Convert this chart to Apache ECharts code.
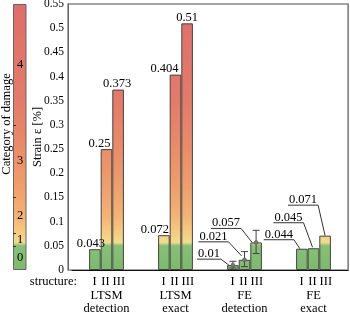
<!DOCTYPE html>
<html>
<head>
<meta charset="utf-8">
<script src="https://cdn.jsdelivr.net/npm/echarts@6/dist/echarts.min.js"></script>
<style>
html, body { margin: 0; padding: 0; background: #fff; }
#damageChart { width: 350px; height: 313px; }
</style>
</head>
<body>
<div id="damageChart"></div>
<script>
// categories
const methods = ['LTSM', 'LTSM', 'FE', 'FE'];
const modes = ['detection', 'exact', 'detection', 'exact'];
const structures = ['I', 'II', 'III'];

// strain [%] per structure
const strainI = [0.043, 0.072, 0.01, 0.044];
const strainII = [0.25, 0.404, 0.021, 0.045];
const strainIII = [0.373, 0.51, 0.057, 0.071];

// error bars (FE detection only)
const errGroup = 2;
const errLow = [0.004, 0.007, 0.034];
const errHigh = [0.018, 0.038, 0.082];

// damage categories of the colour bar
const damageCats = ['0', '1', '2', '3', '4'];
const damageBounds = [0, 0.05, 0.075, 0.15, 0.3, 0.55];

const yMax = 0.55;
const yStep = 0.05;

// ---- styles ----
const FONT = '"Liberation Serif", "Times New Roman", serif';
const FONT_SIZE = 12.5;
const TEXT_COLOR = '#000';
const GRID = { left: 72, right: 2, top: 4, bottom: 43 };
const AXIS_X = 68;
const CHART_W = 350, CHART_H = 313;
const TOP = GRID.top, BOTTOM = CHART_H - GRID.bottom;
const BAR_W = 11.6;
// widths of the "I II III" tokens under each group (pad first)
const STRUCT_PAD = 3.1;
const STRUCT_W = [11.6, 10, 16.7];

// colour map, by strain value
const COLOR_STOPS = [
  [0, '#7dba6c'], [0.05, '#86c076'], [0.057, '#f2dc8c'], [0.075, '#f6cd82'],
  [0.11, '#f4b474'], [0.17, '#f09f6c'], [0.26, '#ea8a68'], [0.35, '#e47b6a'], [0.55, '#df6e69']
];

// label placement (style only): plain -> dx of text centre; leader -> underline end offset + tip
const LABEL_STYLE = [
  { leader: false, dx: [-4, -7, -1] },
  { leader: false, dx: [-9, -11, 0] },
  { leader: true, dx: [-12, -16, -15], dy: [-6, -18, -14], tip: [[-4, 0], [-3, -4], [-4, 0]] },
  { leader: true, dx: [-8, -10, -7], dy: [-9, -25.5, -30.5], tip: [[-2, 0], [-1, -1], [0, 0]] }
];

function strainGradient() {
  return new echarts.graphic.LinearGradient(0, BOTTOM, 0, TOP,
    COLOR_STOPS.map(s => ({ offset: s[0] / yMax, color: s[1] })), true);
}

const measureCtx = document.createElement('canvas').getContext('2d');
measureCtx.font = FONT_SIZE + 'px ' + FONT;

const allStrain = [strainI, strainII, strainIII];
const labelData = [];
methods.forEach((m, g) => allStrain.forEach((arr, k) => labelData.push([g, k, arr[g]])));
const errData = errLow.map((lo, k) => [errGroup, k, lo, errHigh[k], allStrain[k][errGroup]]);
const catMids = damageCats.map((c, i) => (damageBounds[i] + damageBounds[i + 1]) / 2);

function textStyle(text, align, vAlign) {
  return {
    text: text, font: FONT_SIZE + 'px ' + FONT, fill: TEXT_COLOR,
    align: align, verticalAlign: vAlign, textAlign: align, textVerticalAlign: vAlign
  };
}

function renderValueLabel(params, api) {
  const g = api.value(0), k = api.value(1), v = api.value(2);
  const p = api.coord([g, v]);
  const cx = p[0] + (k - 1) * BAR_W, top = p[1];
  const st = LABEL_STYLE[g];
  const text = String(v);
  if (!st.leader) {
    return { type: 'text', x: cx + st.dx[k], y: top + 1, style: textStyle(text, 'center', 'bottom') };
  }
  const ux = cx + st.dx[k], uy = top + st.dy[k];
  const w = measureCtx.measureText(text).width;
  return {
    type: 'group',
    children: [
      {
        type: 'polyline',
        shape: { points: [[ux - w - 2, uy], [ux, uy], [cx + st.tip[k][0], top + st.tip[k][1]]] },
        style: { stroke: '#333', lineWidth: 1, fill: null }
      },
      { type: 'text', x: ux - 1, y: uy + 1, style: textStyle(text, 'right', 'bottom') }
    ]
  };
}

function renderErrorBar(params, api) {
  const g = api.value(0), k = api.value(1);
  const lo = api.coord([g, api.value(2)]);
  const hi = api.coord([g, api.value(3)]);
  const mid = api.coord([g, api.value(4)]);
  const x = lo[0] + (k - 1) * BAR_W;
  const s = { stroke: '#444', lineWidth: 1 };
  return {
    type: 'group',
    children: [
      { type: 'line', shape: { x1: x, y1: lo[1], x2: x, y2: hi[1] }, style: s },
      { type: 'line', shape: { x1: x - 3.5, y1: lo[1], x2: x + 3.5, y2: lo[1] }, style: s },
      { type: 'line', shape: { x1: x - 3.5, y1: hi[1], x2: x + 3.5, y2: hi[1] }, style: s },
      { type: 'circle', shape: { cx: x, cy: mid[1], r: 2 }, style: { fill: '#777', stroke: '#555', lineWidth: 0.5 } }
    ]
  };
}

const barStyle = { color: strainGradient(), borderColor: '#444', borderWidth: 1 };

const structRich = { p: { width: STRUCT_PAD, fontSize: FONT_SIZE, fontFamily: FONT, lineHeight: 14 } };
structures.forEach((s, k) => {
  structRich['s' + k] = { width: STRUCT_W[k], align: 'center', fontSize: FONT_SIZE, fontFamily: FONT, lineHeight: 14 };
});
structRich.n = { fontSize: FONT_SIZE, fontFamily: FONT, lineHeight: 13 };

const chart = echarts.init(document.getElementById('damageChart'), null, { renderer: 'canvas' });
chart.setOption({
  animation: false,
  textStyle: { fontFamily: FONT, color: TEXT_COLOR },
  grid: [
    Object.assign({ outerBoundsMode: 'none' }, GRID),
    { left: 13, width: 13.5, top: GRID.top, bottom: GRID.bottom, outerBoundsMode: 'none' }
  ],
  graphic: [
    {
      type: 'rect', z: -1, silent: true,
      shape: { x: AXIS_X, y: TOP, width: CHART_W - GRID.right - AXIS_X, height: BOTTOM - TOP },
      style: { fill: null, stroke: '#888', lineWidth: 1.5 }
    },
    {
      type: 'text', x: 7, y: 124, rotation: Math.PI / 2,
      style: textStyle('Category of damage', 'center', 'middle')
    },
    {
      type: 'text', x: 77, y: 282,
      style: textStyle('structure:', 'right', 'middle')
    }
  ],
  xAxis: [
    {
      type: 'category', gridIndex: 0,
      data: methods.map((m, i) => m + ' ' + modes[i]),
      axisLine: { lineStyle: { color: '#111' } },
      axisTick: { show: false },
      axisLabel: {
        interval: 0, margin: 5,
        formatter: (v, i) => '{p| }' + structures.map((s, k) => '{s' + k + '|' + s + '}').join('') +
          '\n{n|' + methods[i] + '}\n{n|' + modes[i] + '}',
        rich: structRich
      }
    },
    { type: 'category', gridIndex: 1, data: ['bar'], show: false }
  ],
  yAxis: [
    {
      type: 'value', gridIndex: 0, min: 0, max: yMax, interval: yStep, offset: GRID.left - AXIS_X,
      name: 'Strain ε [%]', nameLocation: 'middle', nameGap: 24, nameMoveOverlap: false,
      nameTextStyle: { fontFamily: FONT, fontSize: FONT_SIZE, color: TEXT_COLOR },
      axisLine: { show: true, lineStyle: { color: '#666' } },
      axisTick: { inside: true, length: 3, lineStyle: { color: '#333' } },
      axisLabel: { margin: 4, fontFamily: FONT, fontSize: 11.5, color: TEXT_COLOR },
      splitLine: { show: false }
    },
    {
      type: 'value', gridIndex: 0, position: 'right', min: 0, max: yMax, interval: yStep,
      axisLine: { show: true, lineStyle: { color: '#888' } },
      axisTick: { inside: true, length: 3, lineStyle: { color: '#555' } },
      axisLabel: { show: false },
      splitLine: { show: false }
    },
    {
      type: 'value', gridIndex: 1, position: 'left', min: 0, max: yMax, z: 10,
      axisLine: { show: false },
      axisTick: { show: true, inside: true, length: 3, customValues: damageBounds.slice(1, -1), lineStyle: { color: '#333' } },
      axisLabel: {
        inside: true, margin: 4, fontFamily: FONT, fontSize: FONT_SIZE, color: TEXT_COLOR,
        customValues: catMids,
        formatter: v => damageCats[catMids.findIndex(m => Math.abs(m - v) < 1e-6)] || ''
      },
      splitLine: { show: false }
    }
  ],
  series: [
    { name: structures[0], type: 'bar', barWidth: BAR_W, barGap: '0%', data: strainI, itemStyle: barStyle, silent: true },
    { name: structures[1], type: 'bar', barWidth: BAR_W, barGap: '0%', data: strainII, itemStyle: barStyle, silent: true },
    { name: structures[2], type: 'bar', barWidth: BAR_W, barGap: '0%', data: strainIII, itemStyle: barStyle, silent: true },
    {
      type: 'custom', name: 'error', xAxisIndex: 0, yAxisIndex: 0, z: 5,
      encode: { x: 0, y: [2, 3] }, data: errData, renderItem: renderErrorBar, clip: false, silent: true
    },
    {
      type: 'custom', name: 'labels', xAxisIndex: 0, yAxisIndex: 0, z: 6,
      encode: { x: 0, y: 2 }, data: labelData, renderItem: renderValueLabel, clip: false, silent: true
    },
    {
      type: 'bar', xAxisIndex: 1, yAxisIndex: 2, barWidth: '100%', data: [yMax], silent: true, z: 1,
      itemStyle: { color: strainGradient(), borderColor: '#666', borderWidth: 1 }
    }
  ]
});
</script>
</body>
</html>
